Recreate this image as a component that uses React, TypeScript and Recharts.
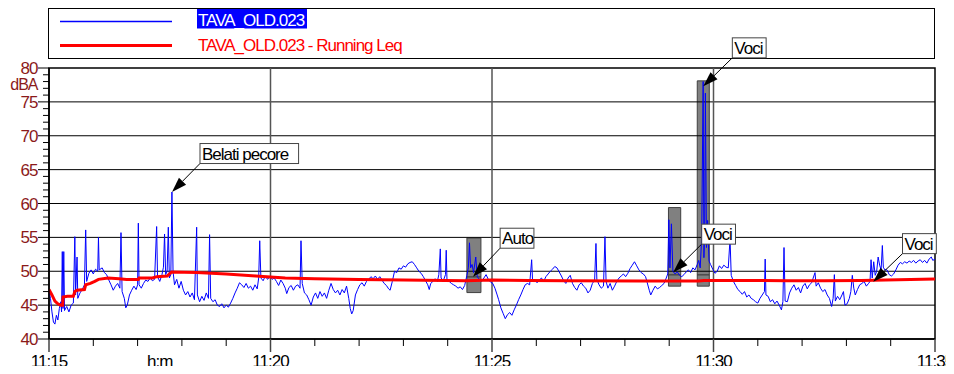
import React from 'react';
import { LineChart, Line, XAxis, YAxis, ReferenceLine, ReferenceArea, ReferenceDot } from 'recharts';

// [seconds after 11:15:00, dBA]
const levelTrace: [number, number][] = [
  [0, 47.2], [2, 46.0], [4, 44.0], [6, 42.5], [8, 42.2], [10, 43.5], [12, 42.8], [14, 44.5], [16, 45.5], [17, 44.0],
  [18, 52.9], [19, 44.5], [20, 52.9], [21, 44.2], [24, 44.8], [27, 44.0], [30, 45.0], [33, 45.3], [35, 55.1], [36, 46.5],
  [38, 52.1], [39, 46.0], [42, 46.8], [45, 47.3], [48, 48.0], [49.7, 56.1], [51, 48.5], [54, 49.7], [57, 50.2], [60, 49.6],
  [63, 50.3], [66, 50.0], [67, 55.0], [68, 50.2], [72, 50.5], [75, 49.8], [78, 49.5], [81, 48.7], [84, 48.0], [87, 47.2],
  [90, 47.8], [93, 48.2], [96, 47.5], [97.5, 55.7], [99, 47.0], [102, 46.0], [104, 44.6], [106, 45.0], [109, 46.5], [112, 47.2],
  [115, 47.8], [118, 47.3], [120, 48.0], [121, 57.1], [122, 48.0], [125, 47.5], [128, 48.2], [131, 48.7], [134, 48.5], [137, 49.0],
  [140, 48.6], [143, 48.8], [145.8, 56.6], [147, 49.2], [150, 48.5], [153, 49.5], [155, 50.6], [156.5, 55.5], [158, 49.5], [160, 50.0],
  [161.6, 56.5], [163, 49.0], [165, 49.5], [166.5, 61.7], [168, 50.0], [170, 48.0], [173, 48.8], [176, 47.5], [179, 48.5], [182, 47.2],
  [185, 46.5], [188, 47.0], [191, 46.2], [194, 46.8], [197, 45.8], [200, 56.5], [201, 46.5], [204, 45.5], [207, 46.3], [210, 45.7],
  [213, 46.8], [216, 46.0], [217.5, 55.4], [219, 46.0], [222, 45.5], [225, 45.8], [228, 45.0], [231, 44.8], [234, 45.2], [237, 44.6],
  [240, 45.0], [243, 44.7], [246, 45.3], [249, 46.0], [252, 46.8], [255, 47.5], [258, 48.3], [261, 48.0], [264, 47.6], [267, 48.2],
  [270, 47.5], [273, 47.8], [276, 47.2], [279, 48.0], [282, 47.4], [284, 49.0], [285.4, 54.5], [287, 49.0], [290, 48.6], [293, 49.3],
  [296, 48.8], [299, 49.2], [302, 48.8], [305, 49.0], [308, 48.5], [311, 47.9], [314, 48.7], [317, 48.2], [320, 47.5], [322, 46.7],
  [325, 47.6], [328, 47.9], [331, 47.2], [334, 47.8], [337, 48.0], [340, 47.5], [341.3, 54.5], [343, 48.2], [346, 46.8], [349, 46.5],
  [352, 45.8], [355, 45.0], [358, 46.2], [361, 46.8], [364, 46.0], [367, 47.0], [370, 46.3], [373, 46.8], [376, 46.0], [379, 47.2],
  [382, 48.2], [385, 47.3], [388, 46.8], [391, 47.2], [394, 46.5], [397, 47.3], [400, 46.8], [403, 47.8], [406, 46.0], [408, 44.5],
  [410, 43.7], [412, 44.2], [415, 46.5], [418, 47.3], [421, 48.0], [424, 48.3], [427, 47.8], [430, 48.5], [433, 48.8], [436, 49.2],
  [439, 48.9], [442, 49.3], [445, 48.8], [448, 49.2], [451, 48.7], [454, 48.2], [457, 47.9], [460, 47.4], [462, 47.2], [465, 48.5],
  [468, 50.0], [471, 49.8], [474, 50.5], [477, 50.3], [480, 50.8], [483, 50.6], [486, 51.1], [489, 51.3], [492, 51.4], [495, 51.0],
  [498, 50.5], [501, 50.0], [504, 49.7], [507, 49.2], [510, 48.6], [513, 48.0], [515, 47.3], [517, 48.2], [520, 48.5], [523, 48.9],
  [526, 48.5], [528, 49.5], [530, 53.3], [531, 49.0], [534, 48.6], [537, 49.5], [538, 53.1], [539, 48.8], [542, 48.5], [545, 48.2],
  [548, 48.0], [551, 47.8], [554, 47.5], [557, 47.7], [560, 47.3], [563, 47.9], [566, 49.4], [568, 50.5], [569.5, 54.2], [571, 50.5],
  [573, 51.0], [575, 49.8], [578, 52.1], [580, 49.2], [583, 48.8], [586, 48.5], [589, 49.0], [592, 49.5], [595, 48.8], [598, 48.4],
  [601, 48.2], [604, 47.5], [607, 46.5], [609, 45.8], [612, 44.6], [615, 43.8], [618, 43.0], [621, 43.6], [624, 43.9], [627, 43.5],
  [630, 44.3], [633, 45.0], [636, 45.8], [639, 46.5], [642, 47.3], [645, 48.0], [648, 48.2], [651, 48.0], [653.7, 51.7], [655, 48.5],
  [658, 48.8], [661, 48.3], [664, 48.7], [667, 49.0], [670, 48.5], [673, 49.2], [676, 49.6], [679, 50.0], [682, 50.3], [685, 50.7],
  [688, 50.5], [691, 49.9], [694, 49.3], [697, 48.6], [700, 48.2], [703, 49.0], [706, 49.4], [709, 48.2], [712, 47.6], [715, 47.2],
  [718, 48.0], [721, 48.3], [724, 47.8], [727, 47.5], [730, 46.8], [733, 47.2], [736, 48.2], [739, 48.7], [740.8, 54.1], [742, 48.8],
  [745, 48.0], [748, 47.5], [751, 47.8], [753, 55.1], [754.5, 48.5], [757, 47.5], [760, 48.2], [763, 47.2], [766, 47.8], [769, 48.5],
  [772, 49.0], [775, 49.3], [778, 49.6], [781, 49.2], [784, 49.7], [787, 50.4], [790, 50.9], [793, 51.4], [796, 50.8], [799, 50.2],
  [802, 49.8], [805, 49.6], [808, 49.2], [810, 48.4], [813, 47.2], [815, 46.5], [818, 47.2], [821, 47.8], [824, 47.4], [827, 47.6],
  [830, 47.9], [833, 48.2], [836, 49.0], [838, 49.6], [839.5, 57.6], [841, 50.5], [843, 57.0], [845, 50.0], [848, 49.6], [851, 49.9],
  [854, 49.4], [857, 49.2], [860, 49.5], [863, 49.9], [866, 50.2], [869, 49.8], [872, 50.5], [875, 50.2], [878, 51.0], [880, 51.6],
  [882, 50.5], [884, 55.0], [886, 78.0], [887, 52.0], [888, 55.0], [889, 76.3], [890.5, 53.5], [892, 57.5], [894, 51.5], [896, 51.0],
  [899, 50.3], [902, 49.7], [905, 50.0], [908, 50.8], [911, 50.4], [914, 50.9], [917, 50.6], [920, 50.5], [922.4, 54.8], [924, 49.4],
  [927, 48.5], [930, 47.9], [933, 47.3], [936, 47.0], [939, 46.6], [942, 47.0], [945, 46.2], [948, 46.5], [951, 46.0], [954, 45.8],
  [957, 45.5], [960, 45.3], [963, 46.0], [966, 46.5], [969, 47.0], [970, 51.8], [971, 46.5], [974, 46.3], [977, 45.5], [980, 45.8],
  [983, 45.2], [986, 45.6], [989, 45.0], [992, 44.3], [994, 45.5], [995.5, 53.5], [997, 45.6], [1000, 45.5], [1003, 46.8], [1006, 47.5],
  [1009, 48.0], [1012, 47.2], [1015, 47.6], [1018, 46.8], [1021, 47.8], [1024, 48.2], [1027, 47.4], [1030, 48.0], [1033, 48.3], [1035, 49.0],
  [1037.5, 49.8], [1039, 47.8], [1042, 48.3], [1045, 47.5], [1048, 47.0], [1051, 47.3], [1054, 46.5], [1057, 46.0], [1060, 44.8], [1062, 46.0],
  [1063.7, 49.5], [1065, 45.6], [1068, 46.3], [1071, 45.8], [1074, 46.5], [1076, 47.0], [1078, 45.0], [1081, 45.2], [1084, 46.0], [1086, 47.0],
  [1088, 49.4], [1090, 47.5], [1092, 46.5], [1095, 47.3], [1098, 48.0], [1101, 48.2], [1104, 48.5], [1107, 47.8], [1110, 48.2], [1112, 48.5],
  [1113.4, 51.7], [1115, 49.0], [1117, 51.4], [1119, 49.4], [1121, 50.0], [1123, 52.1], [1125, 50.9], [1127, 50.2], [1128.7, 53.8], [1130, 50.6],
  [1132, 50.2], [1135, 50.2], [1138, 49.5], [1141, 49.3], [1144, 49.6], [1147, 50.2], [1150, 50.9], [1153, 51.3], [1156, 51.1], [1159, 51.4],
  [1162, 51.2], [1165, 51.5], [1168, 51.3], [1171, 51.6], [1174, 51.2], [1177, 51.5], [1180, 51.7], [1183, 51.3], [1186, 51.6], [1189, 51.2],
  [1192, 51.8], [1195, 52.1], [1197, 51.6], [1200, 51.8],
];

// running Leq, [seconds, dBA]
const leqTrace: [number, number][] = [
  [0, 47.3], [4, 46.5], [8, 45.6], [12, 45.2], [16, 45.0], [18.5, 45.0], [19, 46.2], [25, 46.3], [33, 46.3], [35, 47.0],
  [38, 47.2], [48, 47.3], [49.7, 48.0], [56, 48.2], [62, 48.5], [67, 48.8], [80, 49.0], [95, 48.9], [105, 48.8], [121, 48.8],
  [122, 49.0], [140, 49.0], [146, 49.2], [160, 49.3], [166, 49.9], [200, 49.8], [240, 49.6], [280, 49.3], [320, 49.0], [360, 48.9],
  [420, 48.8], [480, 48.7], [565, 48.6], [600, 48.7], [650, 48.65], [700, 48.6], [800, 48.55], [880, 48.55], [887, 48.65], [950, 48.65],
  [1000, 48.6], [1050, 48.6], [1100, 48.65], [1150, 48.75], [1200, 48.85],
];

const levelTicks = [
  40, 41, 42, 43, 44, 45, 46, 47, 48, 49, 50, 51, 52, 53, 54, 55, 56, 57, 58, 59, 60,
  61, 62, 63, 64, 65, 66, 67, 68, 69, 70, 71, 72, 73, 74, 75, 76, 77, 78, 79, 80,
];
const levelGrid = [45, 50, 55, 60, 65, 70, 75];
const timeTicks = [0, 60, 120, 150, 180, 240, 300, 360, 420, 480, 540, 600, 660, 720, 780, 840, 900, 960, 1020, 1080, 1140, 1200];
const timeGrid = [300, 600, 900];
const labelledTimes = [0, 150, 300, 600, 900, 1200];
const timeLabels = ['11:15', 'h:m', '11:20', '11:25', '11:30', '11:35'];

// marked events (grey bars): start/end seconds, max, Leq, min
const markStart = [566, 839, 878];
const markEnd = [585, 855.6, 894.3];
const markMax = [54.9, 59.4, 78.1];
const markMid = [49.15, 49.45, 49.45];
const markMin = [46.85, 47.8, 47.8];

// callouts
const noteTexts = ['Belati pecore', 'Auto', 'Voci', 'Voci', 'Voci'];
const noteBoxTime = [204.5, 611, 884, 925.5, 1156];
const noteBoxLevel = [65.9, 53.4, 54.0, 81.5, 52.6];
const noteTipTime = [166.6, 574.3, 845.5, 886.2, 1116.4];
const noteTipLevel = [61.7, 49.2, 49.85, 77.3, 48.45];

const levelData = levelTrace.map(([t, v]) => ({ t, v }));
const leqData = leqTrace.map(([t, v]) => ({ t, leq: v }));

const FONT = '"Liberation Sans", Arial, sans-serif';
const AXIS_RED = '#8b1a1a';

const LevelTick = (props: any) => {
  const { x, y, payload } = props;
  const major = payload.value % 5 === 0;
  return (
    <g>
      <line x1={x - (major ? 11 : 6)} x2={x} y1={y} y2={y} stroke="#000" />
      {major && (
        <text x={x - 11.5} y={y + 6} textAnchor="end" fill={AXIS_RED} fontFamily={FONT} fontSize={17} letterSpacing={-1}>
          {payload.value}
        </text>
      )}
    </g>
  );
};

const TimeTick = (props: any) => {
  const { x, y, payload } = props;
  const t = payload.value;
  const li = labelledTimes.indexOf(t);
  const label = li >= 0 ? (
    <text x={x} y={y + 28} textAnchor="middle" fill="#000" fontFamily={FONT} fontSize={17} letterSpacing={-1}>
      {timeLabels[li]}
    </text>
  ) : null;
  if (t === 150) return label;
  const major = t % 300 === 0;
  return (
    <g>
      <line x1={x} x2={x} y1={y} y2={y + (major ? 13 : 7)} stroke={major ? '#444' : '#000'} strokeWidth={major ? 1.5 : 1} />
      {label}
    </g>
  );
};

const arrowShape = (p: any) => {
  const { x1, y1, x2, y2 } = p;
  const dx = x2 - x1;
  const dy = y2 - y1;
  const len = Math.sqrt(dx * dx + dy * dy) || 1;
  const ux = dx / len;
  const uy = dy / len;
  const hl = 15;
  const hw = 5;
  const bx = x2 - ux * hl;
  const by = y2 - uy * hl;
  const pts = `${x2},${y2} ${bx - uy * hw},${by + ux * hw} ${bx + uy * hw},${by - ux * hw}`;
  return (
    <g>
      <line x1={x1} y1={y1} x2={bx} y2={by} stroke="#000" strokeWidth={1} />
      <polygon points={pts} fill="#000" />
    </g>
  );
};

const noteShape = (text: string) => (p: any) => {
  const { cx, cy } = p;
  const w = text.length * 7.2 + 5;
  const h = 20;
  return (
    <g>
      <rect x={cx} y={cy - h} width={w} height={h} fill="#fff" stroke="#444" strokeWidth={1} />
      <text x={cx + 2} y={cy - 4} fill="#000" fontFamily={FONT} fontSize={17} letterSpacing={-1}>
        {text}
      </text>
    </g>
  );
};

const DbaLabel = (p: any) => {
  const { viewBox } = p;
  return (
    <text x={viewBox.x + viewBox.width - 11.5} y={viewBox.y + 22} textAnchor="end" fill={AXIS_RED} fontFamily={FONT} fontSize={16} letterSpacing={-1}>
      dBA
    </text>
  );
};

const Legend = () => (
  <svg width={888} height={52} style={{ position: 'absolute', left: 40, top: 0 }}>
    <rect x={0.5} y={0.5} width={886} height={50} fill="#fff" stroke="#000" strokeWidth={1} />
    <line x1={12} x2={124} y1={13.5} y2={13.5} stroke="#0000ff" strokeWidth={1.3} />
    <line x1={12} x2={124} y1={37.5} y2={37.5} stroke="#ff0000" strokeWidth={3} />
    <rect x={149} y={1} width={110} height={19.5} fill="#0000ff" />
    <text x={150} y={17.5} fill="#fff" fontFamily={FONT} fontSize={17} letterSpacing={-1}>
      TAVA_OLD.023
    </text>
    <text x={150} y={42.5} fill="#ff0000" fontFamily={FONT} fontSize={17} letterSpacing={-1}>
      TAVA_OLD.023 - Running Leq
    </text>
  </svg>
);

export default function App() {
  return (
    <div style={{ position: 'relative', width: 946, height: 358 }}>
      <style>{'html, body { overflow: hidden; }'}</style>
      <Legend />
      <div style={{ position: 'absolute', left: 0, top: 0 }}>
        <LineChart width={946} height={364} margin={{ top: 60, right: 19, bottom: 0, left: 0 }} style={{ overflow: 'visible' }}>
          <XAxis
            dataKey="t"
            type="number"
            domain={[0, 1200]}
            ticks={timeTicks}
            interval={0}
            allowDataOverflow
            height={33}
            tickSize={0}
            tickMargin={0}
            tickLine={false}
            axisLine={{ stroke: '#000', strokeWidth: 1.5 }}
            tick={<TimeTick />}
          />
          <YAxis
            type="number"
            domain={[40, 80]}
            ticks={levelTicks}
            interval={0}
            allowDataOverflow
            width={41}
            tickSize={0}
            tickMargin={0}
            tickLine={false}
            axisLine={{ stroke: '#000', strokeWidth: 1.5 }}
            tick={<LevelTick />}
            label={{ value: 'dBA', content: <DbaLabel /> }}
          />
          {levelGrid.map((v) => (
            <ReferenceLine key={`h${v}`} y={v} stroke="#000" strokeWidth={1} />
          ))}
          {timeGrid.map((t) => (
            <ReferenceLine key={`v${t}`} x={t} stroke="#555" strokeWidth={1.5} />
          ))}
          <ReferenceArea x1={0} x2={1200} y1={40} y2={80} fill="none" stroke="#000" strokeWidth={1.5} />
          {markStart.map((s, i) => (
            <ReferenceArea key={`mu${i}`} x1={s} x2={markEnd[i]} y1={markMid[i]} y2={markMax[i]} fill="#808080" fillOpacity={1} stroke="#404040" />
          ))}
          {markStart.map((s, i) => (
            <ReferenceArea key={`ml${i}`} x1={s} x2={markEnd[i]} y1={markMin[i]} y2={markMid[i]} fill="#808080" fillOpacity={1} stroke="#404040" />
          ))}
          <Line data={levelData} dataKey="v" type="linear" stroke="#0000ff" strokeWidth={1} dot={false} activeDot={false} isAnimationActive={false} />
          <Line data={leqData} dataKey="leq" type="linear" stroke="#ff0000" strokeWidth={3} dot={false} activeDot={false} isAnimationActive={false} />
          {noteTexts.map((txt, i) => (
            <ReferenceLine
              key={`a${i}`}
              segment={[
                { x: noteBoxTime[i], y: noteBoxLevel[i] },
                { x: noteTipTime[i], y: noteTipLevel[i] },
              ]}
              ifOverflow="visible"
              shape={arrowShape}
            />
          ))}
          {noteTexts.map((txt, i) => (
            <ReferenceDot key={`n${i}`} x={noteBoxTime[i]} y={noteBoxLevel[i]} ifOverflow="visible" shape={noteShape(txt)} />
          ))}
        </LineChart>
      </div>
    </div>
  );
}
